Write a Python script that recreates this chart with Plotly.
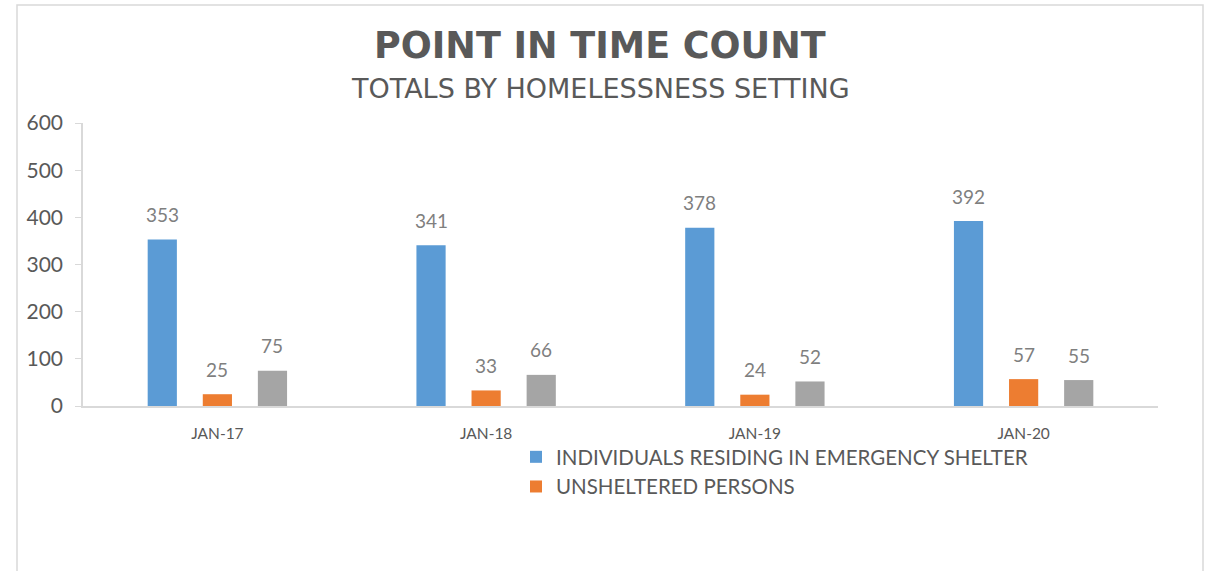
import plotly.graph_objects as go

categories = ["JAN-17", "JAN-18", "JAN-19", "JAN-20"]
shelter = [353, 341, 378, 392]
unsheltered = [25, 33, 24, 57]
transitional = [75, 66, 52, 55]

series_names = ["INDIVIDUALS RESIDING IN EMERGENCY SHELTER", "UNSHELTERED PERSONS", "TRANSITIONAL HOUSING"]
colors = ["#5b9bd5", "#ed7d31", "#a5a5a5"]
series = [shelter, unsheltered, transitional]
show_leg = [True, True, False]
label_shift = [-55, 0, 55]

W, H = 1210, 571
L, R, T, B = 83, 52, 123, 165
pw = W - L - R
ph = H - T - B
bottom = 406

fig = go.Figure()
for name, vals, col, sl in zip(series_names, series, colors, show_leg):
    fig.add_trace(go.Bar(x=categories, y=vals, name=name, marker_color=col,
                         marker_line_width=0, showlegend=sl))

annotations = []
for vals, dx in zip(series, label_shift):
    for c, v in zip(categories, vals):
        annotations.append(dict(x=c, y=v, xref="x", yref="y", text=str(v), showarrow=False,
                                xshift=dx, yshift=25, font=dict(family="Lato", size=19, color="#7f7f7f")))

cx = (600 - L) / pw
annotations.append(dict(x=cx, y=1.0, xref="paper", yref="paper", yanchor="middle",
                        text="<b>POINT IN TIME COUNT</b>", showarrow=False,
                        yshift=(T - 45), font=dict(family="DejaVu Sans", size=36.5, color="#595959")))
annotations.append(dict(x=cx, y=1.0, xref="paper", yref="paper", yanchor="middle",
                        text="TOTALS BY HOMELESSNESS SETTING", showarrow=False,
                        yshift=(T - 88), font=dict(family="DejaVu Sans", size=27, color="#595959")))

fig.update_layout(
    width=W, height=H,
    margin=dict(l=L, r=R, t=T, b=B),
    paper_bgcolor="white", plot_bgcolor="white",
    barmode="group", bargap=0.385, bargroupgap=0.47,
    showlegend=True,
    legend=dict(orientation="v", x=(516 - L) / pw, y=-31 / ph, xanchor="left", yanchor="top",
                font=dict(family="Lato", size=20.5, color="#595959"), tracegroupgap=0,
                bgcolor="rgba(0,0,0,0)", itemwidth=30),
    annotations=annotations,
    shapes=[dict(type="rect", xref="paper", yref="paper",
                 x0=(17 - L) / pw, x1=(1203 - L) / pw,
                 y0=(bottom - 600) / ph, y1=(bottom - 5) / ph,
                 line=dict(color="#d9d9d9", width=1.5), fillcolor="rgba(0,0,0,0)", layer="below")],
)
fig.update_yaxes(range=[0, 600], dtick=100, showgrid=False, zeroline=False,
                 showline=True, linecolor="#d9d9d9", linewidth=1.5,
                 ticks="outside", ticklen=6, tickcolor="#d9d9d9", ticklabelstandoff=8,
                 tickfont=dict(family="Lato", size=21, color="#595959"))
fig.update_xaxes(showgrid=False, showline=True, linecolor="#d9d9d9", linewidth=1.5,
                 ticks="", ticklabelstandoff=13,
                 tickfont=dict(family="Lato", size=15.5, color="#595959"))

fig.write_html("out.html", config={"displayModeBar": False},
               post_script="document.body.style.margin='0';")
